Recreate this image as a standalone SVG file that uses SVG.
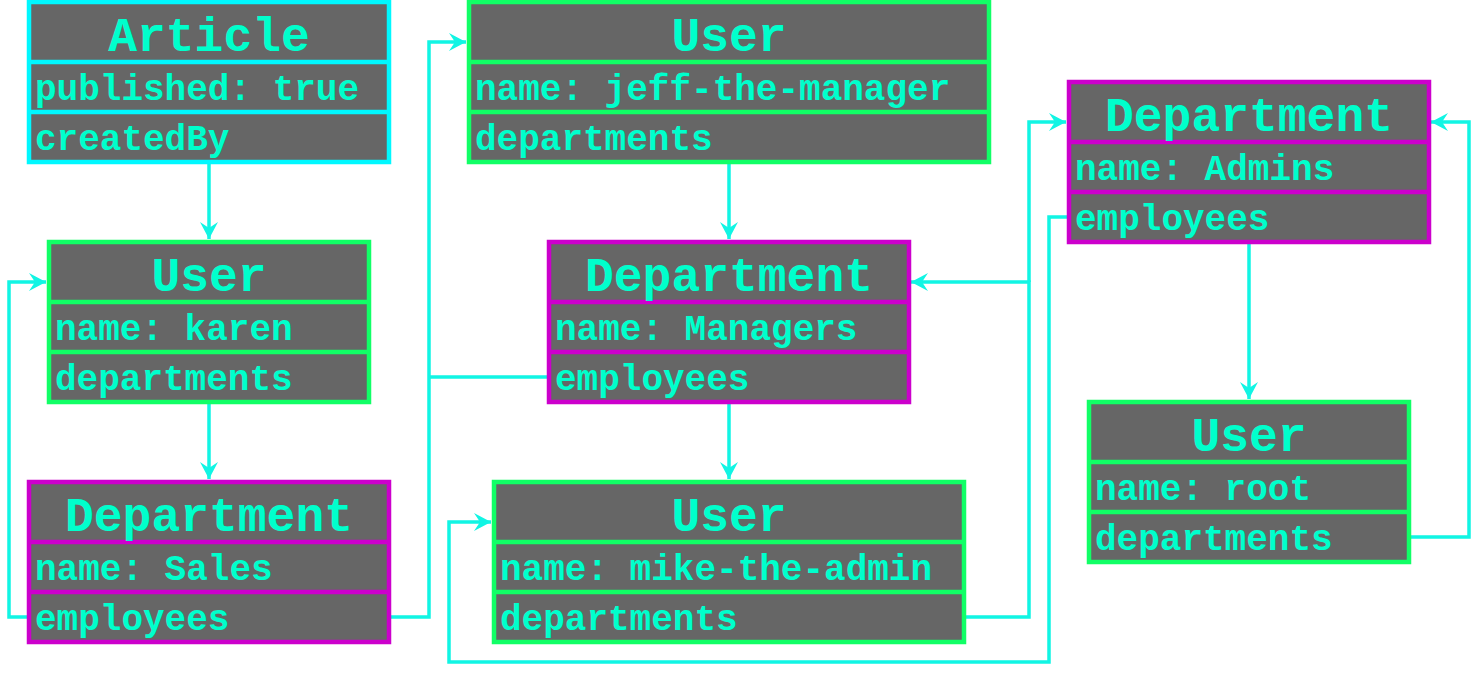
<svg xmlns="http://www.w3.org/2000/svg" width="1480" height="673" viewBox="0 0 1480 673">
<style>
.box rect{fill:#666666;stroke-width:4.5}
.box line{stroke-width:4.5}
.article rect,.article line{stroke:#00f8ff}
.user rect,.user line{stroke:#11ff66}
.dept rect,.dept line{stroke:#cc00cc}
.title{font-family:"Liberation Mono","DejaVu Sans Mono",monospace;font-weight:bold;font-size:48px;fill:#00ffcc;text-anchor:middle}
.field{font-family:"Liberation Mono","DejaVu Sans Mono",monospace;font-weight:bold;font-size:36px;fill:#00ffcc}
.conn path{fill:none;stroke:#11f5e4;stroke-width:3.5}
</style>
<defs>
<marker id="arr" markerUnits="userSpaceOnUse" markerWidth="20" markerHeight="20" viewBox="-17 -10 20 20" refX="0" refY="0" orient="auto">
<path d="M0,0 L-17,-9 L-11,0 L-17,9 Z" fill="#11f5e4"/>
</marker>
</defs>
<g id="connectors" class="conn">
<path d="M209,162 V239" marker-end="url(#arr)"/>
<path d="M209,402 V479" marker-end="url(#arr)"/>
<path d="M28,617 H9 V282 H46" marker-end="url(#arr)"/>
<path d="M389,617 H429 V42 H466" marker-end="url(#arr)"/>
<path d="M548,377 H429"/>
<path d="M729,162 V239" marker-end="url(#arr)"/>
<path d="M729,402 V479" marker-end="url(#arr)"/>
<path d="M964,617 H1029 V282 H911" marker-end="url(#arr)"/>
<path d="M1029,282 V122 H1066" marker-end="url(#arr)"/>
<path d="M1068,217 H1049 V662 H449 V522 H491" marker-end="url(#arr)"/>
<path d="M1249,242 V399" marker-end="url(#arr)"/>
<path d="M1409,537 H1469 V122 H1431" marker-end="url(#arr)"/>
</g>
<g id="article" class="box article">
<rect x="29" y="2" width="360" height="160"/>
<line x1="29" y1="62" x2="389" y2="62"/><line x1="29" y1="112" x2="389" y2="112"/>
<text class="title" x="209" y="51">Article</text>
<text class="field" x="35" y="100">published: true</text>
<text class="field" x="35" y="150">createdBy</text>
</g>
<g id="user-karen" class="box user">
<rect x="49" y="242" width="320" height="160"/>
<line x1="49" y1="302" x2="369" y2="302"/><line x1="49" y1="352" x2="369" y2="352"/>
<text class="title" x="209" y="291">User</text>
<text class="field" x="55" y="340">name: karen</text>
<text class="field" x="55" y="390">departments</text>
</g>
<g id="dept-sales" class="box dept">
<rect x="29" y="482" width="360" height="160"/>
<line x1="29" y1="542" x2="389" y2="542"/><line x1="29" y1="592" x2="389" y2="592"/>
<text class="title" x="209" y="531">Department</text>
<text class="field" x="35" y="580">name: Sales</text>
<text class="field" x="35" y="630">employees</text>
</g>
<g id="user-jeff" class="box user">
<rect x="469" y="2" width="520" height="160"/>
<line x1="469" y1="62" x2="989" y2="62"/><line x1="469" y1="112" x2="989" y2="112"/>
<text class="title" x="729" y="51">User</text>
<text class="field" x="475" y="100">name: jeff-the-manager</text>
<text class="field" x="475" y="150">departments</text>
</g>
<g id="dept-managers" class="box dept">
<rect x="549" y="242" width="360" height="160"/>
<line x1="549" y1="302" x2="909" y2="302"/><line x1="549" y1="352" x2="909" y2="352"/>
<text class="title" x="729" y="291">Department</text>
<text class="field" x="555" y="340">name: Managers</text>
<text class="field" x="555" y="390">employees</text>
</g>
<g id="user-mike" class="box user">
<rect x="494" y="482" width="470" height="160"/>
<line x1="494" y1="542" x2="964" y2="542"/><line x1="494" y1="592" x2="964" y2="592"/>
<text class="title" x="729" y="531">User</text>
<text class="field" x="500" y="580">name: mike-the-admin</text>
<text class="field" x="500" y="630">departments</text>
</g>
<g id="dept-admins" class="box dept">
<rect x="1069" y="82" width="360" height="160"/>
<line x1="1069" y1="142" x2="1429" y2="142"/><line x1="1069" y1="192" x2="1429" y2="192"/>
<text class="title" x="1249" y="131">Department</text>
<text class="field" x="1075" y="180">name: Admins</text>
<text class="field" x="1075" y="230">employees</text>
</g>
<g id="user-root" class="box user">
<rect x="1089" y="402" width="320" height="160"/>
<line x1="1089" y1="462" x2="1409" y2="462"/><line x1="1089" y1="512" x2="1409" y2="512"/>
<text class="title" x="1249" y="451">User</text>
<text class="field" x="1095" y="500">name: root</text>
<text class="field" x="1095" y="550">departments</text>
</g>
</svg>
